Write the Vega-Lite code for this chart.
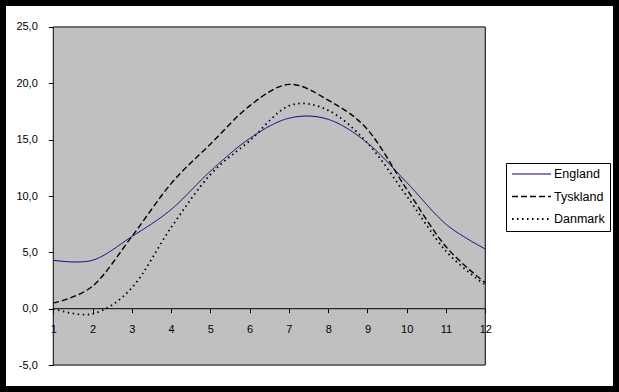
{
  "$schema": "https://vega.github.io/schema/vega-lite/v6.json",
  "width": 619,
  "height": 392,
  "autosize": {"type": "none"},
  "padding": 0,
  "background": "white",
  "config": {
    "view": {"fill": "white", "stroke": "black", "strokeWidth": 12},
    "locale": {"number": {"decimal": ",", "thousands": ".", "grouping": [3], "currency": ["", " kr"], "minus": "-"}},
    "font": "Liberation Sans",
    "axis": {"grid": false, "domain": false, "labelFont": "Liberation Sans", "labelFontSize": 11, "labelColor": "black", "tickColor": "black", "labelFlush": false, "labelOverlap": false}
  },
  "datasets": {
    "temps": [
      {"month": 1, "land": "England", "temp": 4.3},
      {"month": 2, "land": "England", "temp": 4.3},
      {"month": 3, "land": "England", "temp": 6.4},
      {"month": 4, "land": "England", "temp": 8.8},
      {"month": 5, "land": "England", "temp": 12.2},
      {"month": 6, "land": "England", "temp": 15.1},
      {"month": 7, "land": "England", "temp": 16.9},
      {"month": 8, "land": "England", "temp": 16.8},
      {"month": 9, "land": "England", "temp": 14.7},
      {"month": 10, "land": "England", "temp": 11.2},
      {"month": 11, "land": "England", "temp": 7.5},
      {"month": 12, "land": "England", "temp": 5.3},
      {"month": 1, "land": "Tyskland", "temp": 0.5},
      {"month": 2, "land": "Tyskland", "temp": 2.0},
      {"month": 3, "land": "Tyskland", "temp": 6.4},
      {"month": 4, "land": "Tyskland", "temp": 11.1},
      {"month": 5, "land": "Tyskland", "temp": 14.6},
      {"month": 6, "land": "Tyskland", "temp": 18.0},
      {"month": 7, "land": "Tyskland", "temp": 19.9},
      {"month": 8, "land": "Tyskland", "temp": 18.5},
      {"month": 9, "land": "Tyskland", "temp": 15.9},
      {"month": 10, "land": "Tyskland", "temp": 10.6},
      {"month": 11, "land": "Tyskland", "temp": 5.5},
      {"month": 12, "land": "Tyskland", "temp": 2.3},
      {"month": 1, "land": "Danmark", "temp": 0.0},
      {"month": 2, "land": "Danmark", "temp": -0.45},
      {"month": 3, "land": "Danmark", "temp": 1.85},
      {"month": 4, "land": "Danmark", "temp": 7.2},
      {"month": 5, "land": "Danmark", "temp": 11.9},
      {"month": 6, "land": "Danmark", "temp": 14.9},
      {"month": 7, "land": "Danmark", "temp": 18.0},
      {"month": 8, "land": "Danmark", "temp": 17.6},
      {"month": 9, "land": "Danmark", "temp": 14.7},
      {"month": 10, "land": "Danmark", "temp": 10.0},
      {"month": 11, "land": "Danmark", "temp": 5.1},
      {"month": 12, "land": "Danmark", "temp": 2.1}
    ]
  },
  "layer": [
    {
      "data": {"values": [{}]},
      "mark": {"type": "rect", "fill": "#C0C0C0", "stroke": "black", "strokeWidth": 1},
      "encoding": {
        "x": {"datum": 1, "type": "quantitative", "title": null},
        "x2": {"datum": 12},
        "y": {"datum": -5, "type": "quantitative", "title": null},
        "y2": {"datum": 25}
      }
    },
    {
      "data": {"values": [{}]},
      "mark": {"type": "rule", "color": "black", "strokeWidth": 1},
      "encoding": {
        "x": {"datum": 1, "type": "quantitative", "title": null},
        "x2": {"datum": 12},
        "y": {"datum": 0, "type": "quantitative", "title": null}
      }
    },
    {
      "data": {"name": "temps"},
      "mark": {"type": "line", "interpolate": "cardinal"},
      "encoding": {
        "x": {
          "field": "month", "type": "quantitative", "title": null,
          "scale": {"domain": [-0.357, 15.405], "nice": false, "zero": false},
          "axis": {"orient": "bottom", "offset": -83.3, "values": [1, 2, 3, 4, 5, 6, 7, 8, 9, 10, 11, 12], "format": "d", "tickSize": 4, "labelPadding": 11, "zindex": 1}
        },
        "y": {
          "field": "temp", "type": "quantitative", "title": null,
          "scale": {"domain": [-7.39, 27.39], "nice": false, "zero": false},
          "axis": {"orient": "left", "offset": -53.3, "values": [-5, 0, 5, 10, 15, 20, 25], "format": ".1f", "tickSize": 5, "labelPadding": 11}
        },
        "color": {
          "field": "land", "type": "nominal",
          "scale": {"domain": ["England", "Tyskland", "Danmark"], "range": ["#000080", "black", "black"]},
          "legend": {"title": null, "orient": "none", "legendX": 506, "legendY": 163, "strokeColor": "black", "fillColor": "white", "padding": 5, "symbolType": "stroke", "symbolSize": 1521, "clipHeight": 12, "rowPadding": 9.5, "labelFontSize": 12.5, "labelFont": "Liberation Sans", "labelColor": "black", "labelOffset": 2}
        },
        "strokeDash": {
          "field": "land", "type": "nominal",
          "scale": {"domain": ["England", "Tyskland", "Danmark"], "range": [[1, 0], [6, 3], [1.5, 3.5]]},
          "legend": {"title": null, "orient": "none", "legendX": 506, "legendY": 163, "strokeColor": "black", "fillColor": "white", "padding": 5, "symbolType": "stroke", "symbolSize": 1521, "clipHeight": 12, "rowPadding": 9.5, "labelFontSize": 12.5, "labelFont": "Liberation Sans", "labelColor": "black", "labelOffset": 2}
        },
        "strokeWidth": {
          "field": "land", "type": "nominal",
          "scale": {"domain": ["England", "Tyskland", "Danmark"], "range": [1, 1.8, 1.2]},
          "legend": {"title": null, "orient": "none", "legendX": 506, "legendY": 163, "strokeColor": "black", "fillColor": "white", "padding": 5, "symbolType": "stroke", "symbolSize": 1521, "clipHeight": 12, "rowPadding": 9.5, "labelFontSize": 12.5, "labelFont": "Liberation Sans", "labelColor": "black", "labelOffset": 2}
        }
      }
    }
  ]
}
